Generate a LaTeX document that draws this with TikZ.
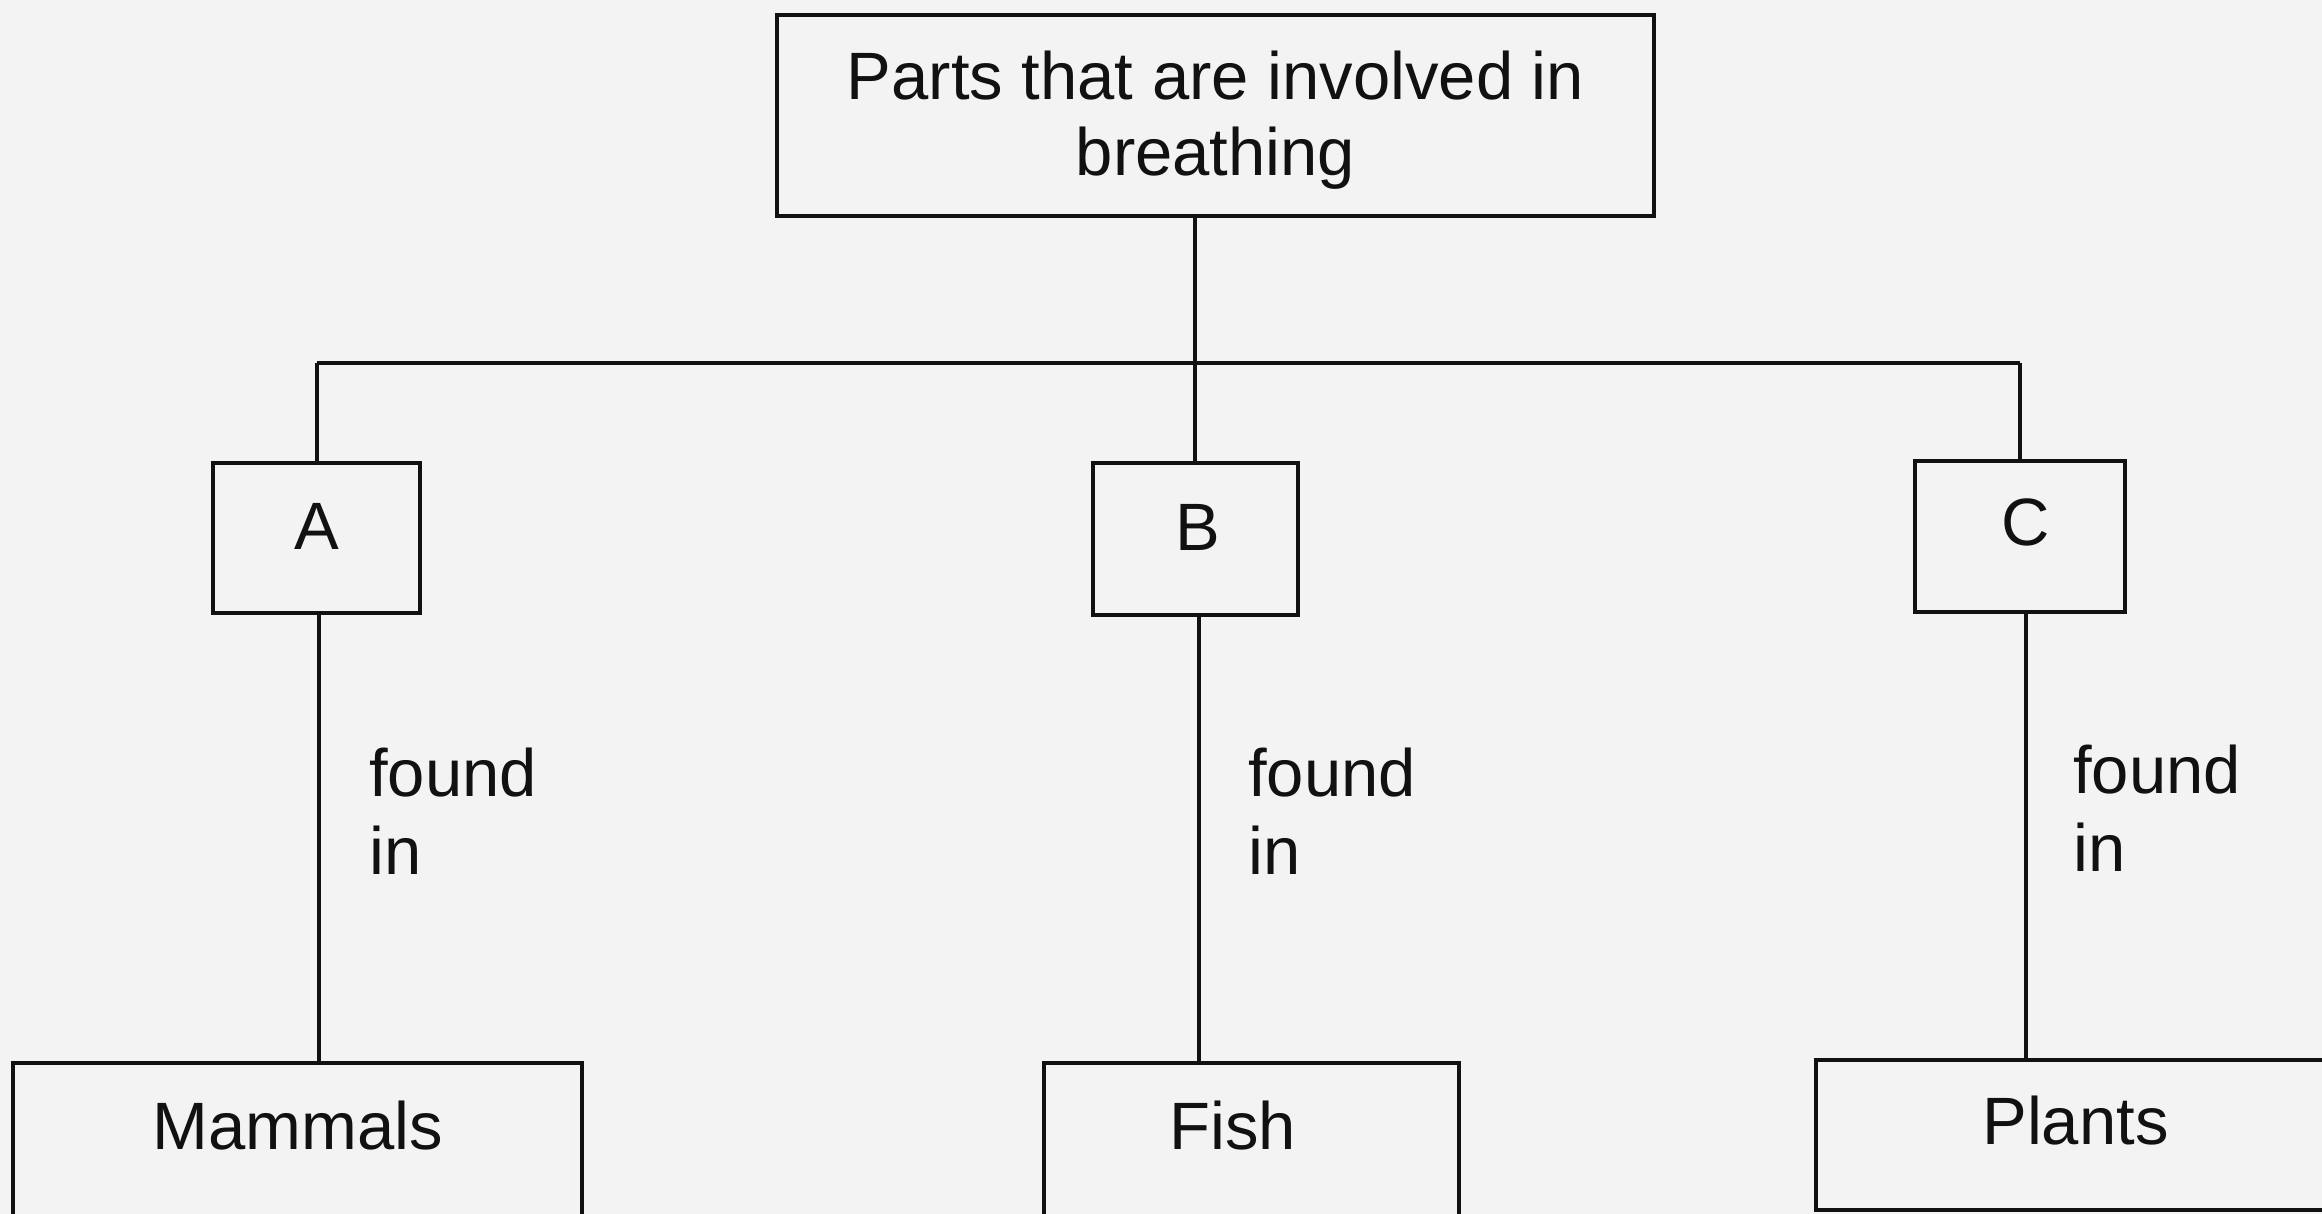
\documentclass[tikz,border=0pt]{standalone}
\usepackage{fontspec}
\setmainfont{Liberation Sans}
\definecolor{bg}{HTML}{F3F3F3}
\definecolor{ink}{HTML}{111111}
\begin{document}
\begin{tikzpicture}[x=1pt,y=-1pt,
  box/.style={draw=ink, line width=4pt, rectangle, inner sep=0pt, align=center},
  txt/.style={font=\fontsize{67}{76}\selectfont, text=ink},
  lbl/.style={font=\fontsize{67}{78}\selectfont, text=ink, align=left, anchor=west, inner sep=0pt},
  conn/.style={draw=ink, line width=4pt}]
\fill[bg] (0,0) rectangle (2322,1214);
\useasboundingbox (0,0) rectangle (2322,1214);
% top box
\node[box, minimum width=877pt, minimum height=201pt,
  label={[txt, align=center, yshift=-5pt]center:Parts that are involved in\\breathing}] (top) at (1215.5,115.5) {};
% middle boxes
\node[box, minimum width=207pt, minimum height=150pt,
  label={[txt, yshift=12pt]center:A}] (A) at (316.5,538) {};
\node[box, minimum width=205pt, minimum height=152pt,
  label={[txt, yshift=12pt, xshift=3pt]center:B}] (B) at (1195,539) {};
\node[box, minimum width=210pt, minimum height=151pt,
  label={[txt, yshift=14pt, xshift=6pt]center:C}] (C) at (2020,536.5) {};
% bottom boxes
\node[box, minimum width=569pt, minimum height=160pt,
  label={[txt, yshift=17pt]center:Mammals}] (mammals) at (297.5,1143) {};
\node[box, minimum width=415pt, minimum height=160pt,
  label={[txt, yshift=17pt, xshift=-19pt]center:Fish}] (fish) at (1251.5,1143) {};
\node[box, minimum width=524pt, minimum height=150pt,
  label={[txt, yshift=14pt, xshift=-2.5pt]center:Plants}] (plants) at (2078,1135) {};
% connectors
\coordinate (bus) at (0,363);
\draw[conn] (top.south -| B.north) -- (B.north);
\draw[conn] (A.north |- bus) -- (C.north |- bus);
\draw[conn] (A.north |- bus) -- (A.north);
\draw[conn] (C.north |- bus) -- (C.north);
\draw[conn] ([xshift=2pt]A.south) -- ([xshift=2pt]A.south |- mammals.north);
\draw[conn] ([xshift=4pt]B.south) -- ([xshift=4pt]B.south |- fish.north);
\draw[conn] ([xshift=6pt]C.south) -- ([xshift=6pt]C.south |- plants.north);
% labels
\node[lbl] (la) at (369,811) {found\\in};
\node[lbl] (lb) at (1248,811) {found\\in};
\node[lbl] (lc) at (2073,808) {found\\in};
\end{tikzpicture}
\end{document}
